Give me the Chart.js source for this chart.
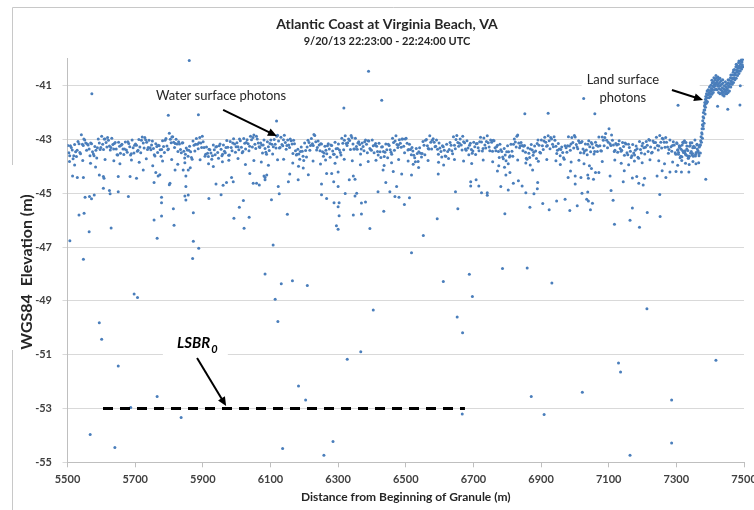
<!DOCTYPE html>
<html>
<head>
<meta charset="utf-8">
<title>Atlantic Coast at Virginia Beach, VA</title>
<script src="https://cdn.jsdelivr.net/npm/chart.js@4.4.1/dist/chart.umd.min.js"></script>
<style>
  html, body { margin: 0; padding: 0; background: #fff; overflow: hidden; width: 754px; height: 510px; }
  #wrap { width: 774px; height: 510px; }
</style>
</head>
<body>
<div id="wrap"><canvas id="chart" width="774" height="510"></canvas></div>
<script>
// Axis ticks
var xTicks = [5500, 5700, 5900, 6100, 6300, 6500, 6700, 6900, 7100, 7300, 7500];
var yTicks = [-55, -53, -51, -49, -47, -45, -43, -41];

var bandStart = 5500;
var bandStep = 10;
var bandUpper = [
  -43.22,-43.30,-43.19,-43.07,-42.82,-43.02,-43.20,-43.16,-43.26,-42.98,
  -42.88,-42.98,-43.03,-42.95,-43.11,-43.10,-43.18,-43.09,-43.15,-43.02,
  -43.17,-43.00,-42.91,-43.01,-43.03,-43.06,-43.16,-43.23,-43.05,-42.96,
  -42.77,-42.90,-42.99,-43.17,-43.12,-43.32,-43.25,-43.06,-42.96,-42.93,
  -43.08,-43.28,-43.38,-43.20,-43.26,-43.17,-43.20,-43.04,-43.07,-42.97,
  -43.12,-43.05,-42.96,-43.01,-42.88,-42.83,-42.98,-43.13,-43.02,-43.08,
  -43.02,-43.00,-42.84,-42.92,-42.84,-43.02,-43.05,-43.16,-43.36,-43.28,
  -43.13,-43.03,-42.96,-42.85,-43.06,-43.17,-43.25,-43.16,-43.22,-43.10,
  -43.17,-42.95,-42.86,-42.98,-42.93,-42.95,-43.08,-43.13,-43.02,-43.06,
  -43.02,-43.15,-43.14,-43.27,-43.17,-43.22,-42.95,-42.86,-43.01,-42.98,
  -42.95,-43.18,-43.43,-43.33,-43.31,-43.07,-43.00,-42.86,-42.97,-43.02,
  -43.32,-43.27,-43.18,-43.11,-42.90,-42.85,-42.98,-43.08,-43.05,-43.14,
  -43.10,-43.15,-42.92,-42.94,-42.86,-43.02,-43.05,-43.21,-43.38,-43.33,
  -43.23,-43.18,-42.98,-42.83,-43.11,-43.22,-43.32,-43.19,-43.24,-43.02,
  -43.02,-42.92,-42.86,-42.98,-43.03,-43.15,-43.28,-43.23,-42.90,-42.93,
  -42.91,-43.05,-43.07,-43.17,-43.05,-43.17,-43.10,-42.91,-42.91,-42.78,
  -42.60,-43.03,-43.15,-43.05,-43.11,-43.17,-43.30,-43.19,-43.24,-43.07,
  -43.14,-43.07,-43.03,-43.06,-42.92,-42.85,-42.98,-43.10,-43.02,-43.08,
  -43.12,-43.25,-43.12,-43.24,-43.12,-43.25,-43.20
];
var bandMid = [
  -43.49,-43.39,-43.46,-43.16,-43.18,-43.13,-43.35,-43.46,-43.40,-43.13,
  -43.18,-43.11,-43.24,-43.19,-43.35,-43.25,-43.35,-43.39,-43.27,-43.31,
  -43.21,-43.28,-43.13,-43.10,-43.31,-43.33,-43.26,-43.38,-43.26,-43.24,
  -42.99,-43.10,-43.17,-43.37,-43.44,-43.39,-43.46,-43.21,-43.18,-43.13,
  -43.30,-43.51,-43.50,-43.38,-43.48,-43.36,-43.44,-43.29,-43.30,-43.17,
  -43.27,-43.29,-43.14,-43.16,-43.01,-43.18,-43.13,-43.20,-43.33,-43.27,
  -43.18,-43.18,-43.06,-43.19,-43.11,-43.20,-43.17,-43.42,-43.54,-43.44,
  -43.41,-43.11,-43.16,-43.08,-43.20,-43.46,-43.40,-43.35,-43.43,-43.34,
  -43.39,-43.14,-43.15,-43.04,-43.17,-43.26,-43.19,-43.26,-43.18,-43.33,
  -43.23,-43.25,-43.46,-43.45,-43.38,-43.38,-43.11,-43.19,-43.14,-43.25,
  -43.14,-43.37,-43.59,-43.52,-43.51,-43.21,-43.23,-43.10,-43.10,-43.36,
  -43.45,-43.40,-43.45,-43.21,-43.21,-43.11,-43.20,-43.12,-43.32,-43.37,
  -43.27,-43.31,-43.09,-43.20,-43.12,-43.10,-43.31,-43.45,-43.45,-43.58,
  -43.46,-43.44,-43.09,-43.13,-43.22,-43.47,-43.51,-43.39,-43.43,-43.21,
  -43.23,-43.10,-43.05,-43.18,-43.25,-43.35,-43.48,-43.31,-43.24,-43.11,
  -43.19,-43.12,-43.35,-43.39,-43.27,-43.31,-43.21,-43.23,-43.03,-43.03,
  -43.16,-43.20,-43.20,-43.33,-43.26,-43.49,-43.44,-43.50,-43.34,-43.37,
  -43.31,-43.21,-43.28,-43.11,-43.22,-43.10,-43.10,-43.28,-43.27,-43.20,
  -43.38,-43.36,-43.47,-43.41,-43.45,-43.30,-43.42
];
var bandLower = [
  -43.60,-43.72,-43.63,-43.48,-43.22,-43.40,-43.60,-43.54,-43.69,-43.37,
  -43.37,-43.28,-43.39,-43.35,-43.57,-43.51,-43.56,-43.47,-43.58,-43.50,
  -43.44,-43.49,-43.32,-43.37,-43.38,-43.57,-43.48,-43.62,-43.48,-43.38,
  -43.12,-43.30,-43.45,-43.49,-43.69,-43.62,-43.67,-43.43,-43.34,-43.30,
  -43.62,-43.63,-43.73,-43.57,-43.70,-43.60,-43.49,-43.59,-43.42,-43.47,
  -43.38,-43.49,-43.35,-43.42,-43.28,-43.33,-43.27,-43.50,-43.47,-43.41,
  -43.54,-43.32,-43.32,-43.23,-43.36,-43.30,-43.52,-43.58,-43.73,-43.62,
  -43.65,-43.40,-43.22,-43.39,-43.42,-43.62,-43.53,-43.66,-43.55,-43.65,
  -43.48,-43.38,-43.22,-43.37,-43.35,-43.36,-43.54,-43.42,-43.49,-43.38,
  -43.49,-43.45,-43.67,-43.63,-43.68,-43.47,-43.40,-43.30,-43.29,-43.49,
  -43.39,-43.57,-43.68,-43.82,-43.65,-43.57,-43.33,-43.35,-43.27,-43.55,
  -43.65,-43.61,-43.71,-43.42,-43.34,-43.25,-43.39,-43.35,-43.57,-43.51,
  -43.56,-43.42,-43.43,-43.32,-43.28,-43.44,-43.42,-43.67,-43.65,-43.79,
  -43.65,-43.62,-43.28,-43.31,-43.42,-43.70,-43.67,-43.59,-43.71,-43.47,
  -43.37,-43.25,-43.34,-43.27,-43.52,-43.60,-43.68,-43.47,-43.40,-43.32,
  -43.28,-43.49,-43.50,-43.57,-43.46,-43.54,-43.45,-43.42,-43.23,-43.31,
  -43.22,-43.45,-43.47,-43.44,-43.59,-43.57,-43.67,-43.58,-43.66,-43.50,
  -43.54,-43.45,-43.50,-43.32,-43.39,-43.32,-43.29,-43.51,-43.44,-43.49,
  -43.48,-43.64,-43.53,-43.69,-43.58,-43.61,-43.52
];
var bandLoose = [
  -43.23,-43.60,-43.40,-43.53,-42.98,-43.17,-43.13,-43.60,-43.31,-43.30,
  -42.98,-42.93,-43.30,-43.15,-43.58,-43.21,-43.35,-43.08,-43.53,-43.21,
  -43.40,-43.03,-42.93,-43.30,-43.20,-43.61,-43.21,-43.37,-43.03,-43.35,
  -42.91,-43.15,-43.08,-43.13,-43.55,-43.40,-43.73,-43.18,-43.12,-42.88,
  -43.55,-43.36,-43.60,-43.28,-43.23,-43.55,-43.30,-43.58,-43.13,-43.27,
  -42.98,-43.45,-43.11,-43.25,-42.93,-42.88,-43.30,-43.20,-43.55,-43.15,
  -43.27,-42.88,-43.30,-43.01,-43.22,-42.98,-43.03,-43.55,-43.45,-43.78,
  -43.28,-43.22,-42.81,-43.30,-43.16,-43.50,-43.23,-43.20,-43.55,-43.33,
  -43.58,-43.03,-43.12,-42.85,-43.35,-43.13,-43.35,-43.08,-43.05,-43.40,
  -43.20,-43.58,-43.28,-43.47,-43.18,-43.55,-43.06,-43.20,-42.98,-42.98,
  -43.37,-43.30,-43.83,-43.46,-43.52,-43.03,-43.35,-43.03,-43.25,-43.13,
  -43.23,-43.62,-43.37,-43.53,-43.00,-43.14,-42.88,-43.40,-43.21,-43.43,
  -43.16,-43.08,-43.33,-43.07,-43.42,-43.03,-43.27,-43.18,-43.72,-43.46,
  -43.60,-43.18,-42.88,-43.23,-43.25,-43.73,-43.35,-43.47,-43.15,-43.50,
  -43.06,-43.22,-42.93,-42.90,-43.40,-43.37,-43.73,-43.23,-43.17,-42.85,
  -43.34,-43.11,-43.43,-43.18,-43.11,-43.45,-43.25,-43.43,-42.93,-43.10,
  -42.83,-43.40,-43.18,-43.40,-43.13,-43.18,-43.60,-43.40,-43.70,-43.23,
  -43.29,-43.00,-43.47,-43.11,-43.24,-42.95,-42.93,-43.37,-43.22,-43.55,
  -43.23,-43.42,-43.11,-43.62,-43.31,-43.48,-43.23
];

// Loose photons just under the band
var tailX = [5506,5521,5545,5568,5583,5611,5637,5655,5689,5712,5733,5752,5781,5808,5826,5847,5863,5892,5917,5931,
  5958,5977,6004,6026,6051,6073,6094,6121,6139,6166,6183,6197,6226,6248,6263,6291,6318,6342,6366,6389,
  6412,6436,6458,6479,6507,6522,6538,6566,6597,6612,6644,6671,6695,6729,6757,6775,6792,6803,6831,6855,
  6868,6892,6917,6944,6957,6989,7012,7027,7043,7049,7081,7118,7137,7159,7176,7199,7222,7248,7265,7289,
  7304,7316,7327,7338,7349,7358,7366];
var tailY = [-43.82,-43.95,-43.78,-43.88,-44.02,-43.74,-43.79,-43.90,-43.76,-43.85,-43.72,-43.98,-43.80,-43.74,-43.92,-43.86,-44.05,-43.75,-43.90,-44.00,
  -43.83,-43.77,-43.71,-43.93,-43.78,-43.84,-43.96,-43.75,-43.73,-43.87,-43.99,-44.06,-43.80,-43.91,-43.76,-43.88,-43.73,-43.79,-43.94,-43.82,
  -43.77,-43.97,-43.86,-43.74,-43.80,-43.92,-44.04,-43.78,-43.85,-43.95,-43.74,-43.80,-43.89,-43.76,-43.83,-43.98,-44.03,-43.90,-43.76,-43.87,
  -43.95,-43.81,-43.74,-43.79,-43.93,-43.84,-43.77,-43.90,-43.98,-44.08,-43.82,-43.76,-43.88,-43.94,-43.80,-43.86,-43.75,-43.79,-43.90,-43.84,
  -43.96,-43.78,-43.88,-43.93,-43.82,-43.90,-43.86];

// Dense patch right before the shoreline
var bulkX = [7302,7306,7309,7313,7317,7321,7324,7328,7331,7335,7339,7342,7346,7350,7353,7357,7361,7364,7368,7304,
  7311,7319,7326,7333,7341,7348,7355,7362,7367,7371];
var bulkY = [-43.15,-43.55,-43.30,-43.62,-43.20,-43.48,-43.05,-43.58,-43.35,-43.70,-43.25,-43.50,-43.12,-43.62,-43.30,-43.55,-43.18,-43.45,-43.28,-43.40,
  -43.68,-43.10,-43.42,-43.60,-43.22,-43.52,-43.02,-43.35,-43.60,-43.20];

// Land surface photons (rise and beach)
var landPoints = [
  [7370,-43.2],[7372,-43.05],[7373,-42.9],[7375,-42.75],[7376,-42.6],[7377,-42.45],[7378,-42.3],[7379,-42.15],[7380,-42.0],[7382,-41.9],
  [7383,-41.75],[7384,-41.62],[7386,-41.5],[7387,-41.4],[7388,-41.55],[7389,-41.3],[7391,-41.2],[7392,-41.35],[7394,-41.15],[7396,-41.25],
  [7398,-41.05],[7400,-41.18],[7402,-40.98],[7404,-41.1],[7406,-40.9],[7408,-41.02],[7410,-40.85],[7412,-40.95],[7414,-40.78],[7416,-40.9],
  [7418,-40.72],[7420,-40.85],[7422,-40.8],[7424,-40.95],[7426,-40.75],[7428,-40.88],[7430,-41.0],[7432,-40.82],[7434,-40.95],[7436,-41.08],
  [7438,-40.9],[7440,-41.12],[7442,-41.0],[7444,-41.15],[7446,-41.05],[7448,-40.95],[7450,-41.1],[7452,-40.9],[7454,-41.0],[7456,-40.8],
  [7458,-40.92],[7460,-40.7],[7462,-40.82],[7464,-40.6],[7466,-40.72],[7468,-40.5],[7470,-40.6],[7472,-40.4],[7474,-40.52],[7476,-40.3],
  [7478,-40.42],[7480,-40.25],[7482,-40.35],[7484,-40.15],[7486,-40.28],[7488,-40.1],[7490,-40.2],[7492,-40.05],[7494,-40.12],[7496,-40.02],
  [7385,-41.7],[7390,-41.45],[7395,-41.35],[7399,-41.3],[7403,-41.22],[7407,-41.15],[7411,-41.05],[7415,-41.0],[7419,-40.95],[7423,-41.02],
  [7427,-41.1],[7431,-41.15],[7435,-41.2],[7439,-41.25],[7443,-41.2],[7447,-41.22],[7451,-41.15],[7455,-41.05],[7459,-40.95],[7463,-40.85],
  [7467,-40.75],[7471,-40.7],[7475,-40.6],[7479,-40.5],[7483,-40.45],[7487,-40.35],[7491,-40.3],[7495,-40.22],
  [7371,-43.5],[7374,-43.1],[7376,-42.8],[7379,-42.5],[7381,-42.2],[7384,-41.9],
  [7392,-41.6],[7397,-41.45],[7401,-41.4],[7405,-41.32],[7409,-41.25],[7413,-41.15],[7417,-41.12],[7421,-41.15],[7425,-41.25],[7429,-41.3],
  [7433,-41.28],[7437,-41.35],[7441,-41.38],[7445,-41.3],[7449,-41.3],[7453,-41.25],[7457,-41.2],[7461,-41.05],[7465,-40.95],[7469,-40.88],
  [7473,-40.78],[7477,-40.72],[7481,-40.62],[7485,-40.55],[7489,-40.45],[7493,-40.38],[7497,-40.3],
  [7405,-40.8],[7411,-40.7],[7417,-40.62],[7423,-40.68],[7429,-40.72],[7437,-40.78],[7445,-40.85],[7453,-40.78],[7461,-40.6],[7469,-40.42],
  [7477,-40.2],[7485,-40.08],[7493,-40.0],
  [7377,-42.95],[7380,-42.6],[7382,-42.4],[7385,-42.05],[7386,-41.8],[7389,-41.65]
];

// Scattered photons away from the surfaces
var strayPoints = [
  [5860,-40.06],[5572,-41.30],[6390,-40.46],[5798,-42.10],[5887,-42.08],[6118,-42.31],[6317,-41.83],[6429,-41.54],[6852,-42.04],[6921,-42.02],
  [7026,-41.48],[7059,-42.04],[7305,-41.73],[7422,-41.76],[7452,-41.88],[7488,-41.72],[7489,-41.00],
  [5515,-44.36],[5529,-44.41],[5547,-44.41],[5594,-44.32],[5606,-44.38],[5608,-44.44],[5650,-44.38],[5685,-44.38],[5704,-44.44],[5724,-44.13],
  [5756,-44.60],[5761,-44.23],[5768,-44.36],[5773,-44.31],[5803,-44.63],[5801,-44.68],[5818,-44.13],[5842,-44.13],[5850,-44.36],[5850,-44.75],
  [5857,-44.13],[5939,-44.65],[5960,-44.70],[5970,-44.60],[5985,-44.41],[5990,-44.57],[6039,-44.26],[6049,-44.63],[6059,-44.63],[6067,-44.69],
  [6081,-44.36],[6084,-44.41],[6089,-44.32],[6084,-44.50],[6123,-44.75],[6157,-44.28],[6153,-44.57],[6182,-44.50],[6212,-44.31],[6251,-44.65],
  [6266,-44.26],[6281,-44.26],[6287,-44.57],[6300,-44.21],[6300,-44.75],[6333,-44.50],[6345,-44.36],[6350,-44.48],[6418,-44.94],[6441,-44.60],
  [6433,-44.13],[6453,-44.94],[6463,-44.19],[6473,-44.75],
  [6488,-44.28],[6517,-44.32],[6596,-44.28],[6692,-44.57],[6708,-44.50],[6692,-44.73],[6716,-44.73],[6647,-44.94],[6724,-44.98],[6741,-44.98],
  [6741,-45.07],[6771,-44.17],[6796,-44.32],[6808,-44.23],[6781,-44.75],[6803,-44.88],[6818,-44.63],[6833,-44.53],[6844,-44.73],[6855,-44.98],
  [6875,-44.13],[6890,-44.60],[6889,-44.83],[6879,-45.02],[6980,-44.41],[6987,-44.17],[7001,-44.36],[7001,-44.65],[7018,-44.41],[7038,-44.32],
  [7040,-44.44],[7055,-44.48],[7061,-44.23],[7071,-44.23],[7021,-45.00],[7038,-44.95],[7104,-44.36],[7107,-44.90],[7143,-44.57],[7146,-44.16],
  [7170,-44.43],[7183,-44.38],[7189,-44.63],[7202,-44.69],[7206,-44.44],[7243,-44.36],[7251,-45.04],[7258,-44.16],[7269,-44.41],[7281,-44.21],
  [7299,-44.19],[7315,-44.21],[7337,-44.21],[7387,-44.48],
  [5507,-46.76],[5534,-45.81],[5549,-45.74],[5552,-45.15],[5565,-45.12],[5571,-45.20],[5579,-45.06],[5564,-46.43],[5547,-47.45],[5606,-44.81],
  [5624,-44.90],[5626,-45.02],[5629,-46.29],[5650,-44.94],[5680,-45.12],[5756,-45.99],[5765,-46.67],[5778,-45.15],[5778,-45.35],[5778,-45.84],
  [5813,-45.57],[5815,-46.19],[5847,-45.10],[5850,-45.25],[5857,-45.06],[5872,-45.72],[5872,-46.78],[5870,-47.42],[5888,-47.04],[5918,-45.19],
  [5954,-45.05],[5992,-45.93],[6008,-45.52],[6020,-45.27],[6022,-46.30],[6037,-45.89],[6103,-45.24],[6108,-46.92],[6126,-45.02],[6150,-45.78],
  [6251,-45.05],[6266,-45.19],[6288,-45.35],[6303,-45.35],[6300,-45.50],[6303,-45.83],[6295,-46.21],[6300,-46.34],[6321,-45.01],[6345,-45.81],
  [6369,-45.77],[6350,-45.10],[6355,-45.00],[6369,-45.36],[6381,-45.32],[6394,-46.31],[6435,-45.67],[6468,-45.12],[6480,-45.15],
  [6496,-45.42],[6511,-45.17],[6593,-45.95],[6552,-46.57],[6654,-45.57],[6793,-45.76],[6867,-45.52],[6905,-45.38],[6924,-45.61],[6946,-45.29],
  [6971,-45.22],[6985,-45.64],[7007,-45.46],[7035,-45.22],[7040,-45.29],[7052,-45.37],[7046,-45.61],[7113,-45.26],[7117,-46.15],[7170,-45.55],
  [7163,-46.00],[7191,-46.26],[7214,-45.71],[7252,-45.86],
  [6084,-48.00],[6132,-48.36],[6165,-48.25],[6209,-48.43],[6114,-48.94],[6122,-49.77],[5697,-48.74],[5707,-48.87],[5594,-49.81],[5601,-50.43],
  [5650,-51.42],[5765,-52.55],[5687,-52.96],[5836,-53.33],[5567,-53.97],[5640,-54.45],[6136,-54.49],[6258,-54.74],[6285,-54.23],[6183,-52.16],
  [6204,-52.68],[6327,-51.17],[6367,-50.89],[6404,-49.34],
  [6517,-47.21],[6611,-48.28],[6688,-48.01],[6697,-48.84],[6786,-47.80],[6859,-47.78],[6932,-48.33],[6652,-49.60],[6668,-50.18],[7213,-49.29],
  [7129,-51.31],[7135,-51.64],[7417,-51.21],[6871,-52.55],[7022,-52.40],[7286,-52.68],[6667,-53.20],[6909,-53.22],[7286,-54.28],[7163,-54.74]
];

// LSBR0 reference level
var lsbrX = [5605, 6675];
var lsbrY = [-53, -53];

var FONT = 'Lato, "Open Sans", sans-serif';
var BLUE = '#4a7ebb';
var INK = '#262626';

// Build point lists for the chart
var photons = [];
var rowShift = [1, 4, 6.5, 8.5];
[bandUpper, bandMid, bandLower, bandLoose].forEach(function(row, r) {
    row.forEach(function(v, i) {
        photons.push({ x: bandStart + i * bandStep + rowShift[r], y: v });
    });
});
tailX.forEach(function(x, i) { photons.push({ x: x, y: tailY[i] }); });
bulkX.forEach(function(x, i) { photons.push({ x: x, y: bulkY[i] }); });
landPoints.concat(strayPoints).forEach(function(p) { photons.push({ x: p[0], y: p[1] }); });

var lsbrLine = lsbrX.map(function(x, i) { return { x: x, y: lsbrY[i] }; });

// Arrow with a filled head
function arrow(c, x1, y1, x2, y2) {
    var a = Math.atan2(y2 - y1, x2 - x1);
    var len = 9, w = 4;
    c.strokeStyle = '#000';
    c.fillStyle = '#000';
    c.lineWidth = 2;
    c.beginPath();
    c.moveTo(x1, y1);
    c.lineTo(x2 - Math.cos(a) * len * 0.8, y2 - Math.sin(a) * len * 0.8);
    c.stroke();
    c.beginPath();
    c.moveTo(x2, y2);
    c.lineTo(x2 - Math.cos(a) * len - Math.sin(a) * w, y2 - Math.sin(a) * len + Math.cos(a) * w);
    c.lineTo(x2 - Math.cos(a) * len + Math.sin(a) * w, y2 - Math.sin(a) * len - Math.cos(a) * w);
    c.closePath();
    c.fill();
}

// Frame, callout boxes, labels and arrows
var notes = {
    id: 'notes',
    beforeDraw: function(chart) {
        var c = chart.ctx;
        c.save();
        c.strokeStyle = '#c8c8c8';
        c.lineWidth = 1;
        c.beginPath();
        c.moveTo(12.5, 7.5); c.lineTo(chart.width, 7.5);
        c.moveTo(12.5, 7.5); c.lineTo(12.5, 165);
        c.moveTo(12.5, 350); c.lineTo(12.5, 510);
        c.stroke();
        c.restore();
    },
    beforeDatasetsDraw: function(chart) {
        var xs = chart.scales.x, ys = chart.scales.y, c = chart.ctx;
        c.save();
        c.fillStyle = '#fff';
        [[5782, 5974, -50.08, -51.28], [7020, 7369, -40.34, -41.83]].forEach(function(b) {
            var l = xs.getPixelForValue(b[0]), r = xs.getPixelForValue(b[1]);
            var t = ys.getPixelForValue(b[2]), bt = ys.getPixelForValue(b[3]);
            c.fillRect(l, t, r - l, bt - t);
        });
        c.restore();
    },
    afterDatasetsDraw: function(chart) {
        var xs = chart.scales.x, ys = chart.scales.y, c = chart.ctx;
        var px = function(v) { return xs.getPixelForValue(v); };
        var py = function(v) { return ys.getPixelForValue(v); };
        c.save();
        c.fillStyle = INK;
        c.textBaseline = 'middle';
        c.textAlign = 'center';
        c.font = '13px ' + FONT;
        c.fillText('Water surface photons', px(5954), py(-41.38));
        c.fillText('Land surface', px(7142), py(-40.79));
        c.fillText('photons', px(7142), py(-41.46));

        // LSBR with subscript 0
        c.textAlign = 'left';
        c.fillStyle = '#000';
        c.font = 'italic bold 15px ' + FONT;
        var lx = px(5824), ly = py(-50.57);
        c.fillText('LSBR', lx, ly);
        var w = c.measureText('LSBR').width;
        c.font = 'italic bold 11px ' + FONT;
        c.fillText('0', lx + w + 1, ly + 6);

        arrow(c, px(5960), py(-41.9), px(6119), py(-42.87));
        arrow(c, px(7287), py(-41.16), px(7379), py(-41.53));
        arrow(c, px(5883), py(-51.12), px(5969), py(-52.91));

        // Y axis title
        c.translate(27, 272);
        c.rotate(-Math.PI / 2);
        c.textAlign = 'center';
        c.fillStyle = INK;
        c.font = 'bold 16px ' + FONT;
        c.fillText('WGS84  Elevation (m)', 0, 0);
        c.restore();
    }
};

var ctx = document.getElementById('chart').getContext('2d');
var chart = new Chart(ctx, {
    type: 'scatter',
    data: {
        datasets: [{
            label: 'LSBR0',
            type: 'line',
            data: lsbrLine,
            borderColor: '#000',
            borderWidth: 3,
            borderDash: [10, 7],
            pointRadius: 0,
            fill: false
        }, {
            label: 'Photons',
            data: photons,
            backgroundColor: BLUE,
            borderWidth: 0,
            pointRadius: 1.5
        }]
    },
    options: {
        responsive: false,
        animation: false,
        events: [],
        layout: { padding: 0 },
        plugins: {
            legend: { display: false },
            tooltip: { enabled: false },
            title: {
                display: true,
                text: 'Atlantic Coast at Virginia Beach, VA',
                color: INK,
                font: { family: FONT, size: 14, weight: 'bold' },
                padding: { top: 16.5, bottom: 2 }
            },
            subtitle: {
                display: true,
                text: '9/20/13 22:23:00 - 22:24:00 UTC',
                color: INK,
                font: { family: FONT, size: 11, weight: 'bold' },
                padding: { top: 0, bottom: 10.3 }
            }
        },
        scales: {
            x: {
                type: 'linear',
                min: 5500,
                max: 7500,
                afterBuildTicks: function(s) { s.ticks = xTicks.map(function(v) { return { value: v }; }); },
                afterFit: function(s) { s.height = 47.7; s.paddingRight = 30; s.paddingLeft = 0; },
                ticks: {
                    font: { family: FONT, size: 11, weight: 'bold' },
                    color: '#404040',
                    padding: 6,
                    maxRotation: 0,
                    autoSkip: false,
                    callback: function(v) { return String(v); }
                },
                grid: { drawOnChartArea: false, drawTicks: true, tickLength: 5, color: '#bfbfbf' },
                border: { color: '#bfbfbf' },
                title: {
                    display: true,
                    text: 'Distance from Beginning of Granule (m)',
                    color: INK,
                    font: { family: FONT, size: 12, weight: 'bold' },
                    padding: { top: 0, bottom: 5.8 }
                }
            },
            y: {
                min: -55,
                max: -40,
                afterBuildTicks: function(s) { s.ticks = yTicks.map(function(v) { return { value: v }; }); },
                afterFit: function(s) { s.width = 67.5; s.paddingTop = 0; s.paddingBottom = 0; },
                ticks: {
                    font: { family: FONT, size: 11, weight: 'bold' },
                    color: '#404040',
                    padding: 10.5,
                    callback: function(v) { return String(v); }
                },
                grid: { color: '#d9d9d9', tickLength: 5 },
                border: { color: '#bfbfbf' }
            }
        }
    },
    plugins: [notes]
});
</script>
</body>
</html>
